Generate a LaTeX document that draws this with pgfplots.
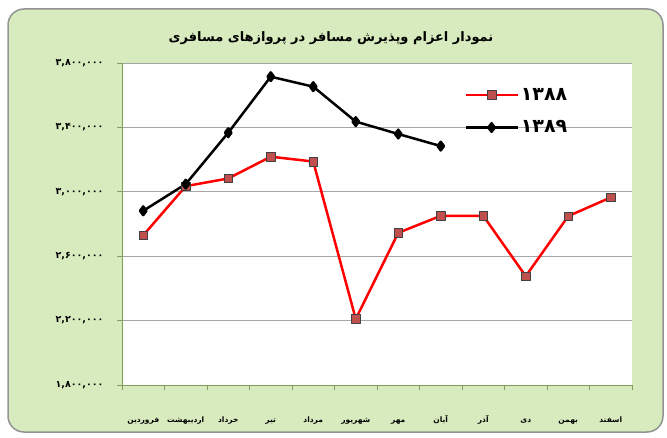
\documentclass[border=0pt]{standalone}
\usepackage{pgfplots}
\pgfplotsset{compat=1.18}
\usepackage{fontspec}
\TeXXeTstate=1
\newfontfamily\fa[Script=Arabic]{DejaVu Sans}
\definecolor{bggreen}{RGB}{215,235,190}
\definecolor{axgreen}{RGB}{134,156,90}
\definecolor{mkred}{RGB}{192,80,77}
\begin{document}
\begin{tikzpicture}[x=1pt,y=1pt]
\useasboundingbox (0,0) rectangle (667,437);
\draw[rounded corners=16pt, fill=bggreen, draw=gray!85, line width=1.5pt] (8,5) rectangle (663,428);
\node[font=\fa\bfseries\fontsize{13}{15}\selectfont] at (331,399) {\beginR نمودار اعزام وپذیرش مسافر در پروازهای مسافری\endR};
\begin{axis}[
    at={(122pt,52pt)}, anchor=south west,
    scale only axis, width=510pt, height=322pt,
    xmin=0.5, xmax=12.5, ymin=1800000, ymax=3800000,
    axis x line*=bottom, axis y line*=left,
    axis line style={axgreen, line width=1pt, -},
    axis background/.style={fill=white},
    tick align=outside,
    xtick={1,...,12}, major x tick style={draw=none},
    minor xtick={0.5,1.5,...,12.5}, minor tick length=5pt,
    minor x tick style={axgreen, line width=0.8pt},
    xticklabels={
        {\beginR فروردین\endR},{\beginR اردیبهشت\endR},{\beginR خرداد\endR},
        {\beginR تیر\endR},{\beginR مرداد\endR},{\beginR شهریور\endR},
        {\beginR مهر\endR},{\beginR آبان\endR},{\beginR آذر\endR},
        {\beginR دی\endR},{\beginR بهمن\endR},{\beginR اسفند\endR}},
    xticklabel style={font=\fa\bfseries\fontsize{7.5}{9}\selectfont, anchor=base, yshift=-32pt},
    ytick={1800000,2200000,2600000,3000000,3400000,3800000},
    yticklabels={{۱,۸۰۰,۰۰۰},{۲,۲۰۰,۰۰۰},{۲,۶۰۰,۰۰۰},{۳,۰۰۰,۰۰۰},{۳,۴۰۰,۰۰۰},{۳,۸۰۰,۰۰۰}},
    yticklabel style={font=\fa\bfseries\fontsize{9.5}{10}\selectfont, xshift=-10pt},
    major y tick style={axgreen, line width=0.8pt}, major tick length=5pt,
    ymajorgrids, grid style={gray!70, line width=0.8pt},
    scaled y ticks=false,
    legend style={at={(0.665,0.935)}, anchor=north west, draw=none, fill=none,
        font=\fa\bfseries\fontsize{19}{20}\selectfont, row sep=15pt},
    legend cell align=left,
    legend image code/.code={\draw[mark repeat=2,mark phase=2,#1] plot coordinates {(0pt,0pt) (26pt,0pt) (52pt,0pt)};},
]
\addplot[red, line width=2.5pt, line join=round, mark=square*,
    mark options={fill=mkred, draw=black!75, line width=0.6pt, solid}, mark size=4.3pt] coordinates {
    (1,2730000) (2,3035000) (3,3083000) (4,3218000) (5,3188000) (6,2210000)
    (7,2745000) (8,2851000) (9,2851000) (10,2476000) (11,2849000) (12,2965000)
};
\addlegendentry{۱۳۸۸}
\addplot[black, line width=2.5pt, line join=round, mark=diamond*,
    mark options={fill=black, solid}, mark size=4.3pt] coordinates {
    (1,2882000) (2,3048000) (3,3367000) (4,3715000) (5,3653000) (6,3436000)
    (7,3359000) (8,3284000)
};
\addlegendentry{۱۳۸۹}
\end{axis}
\end{tikzpicture}
\end{document}
